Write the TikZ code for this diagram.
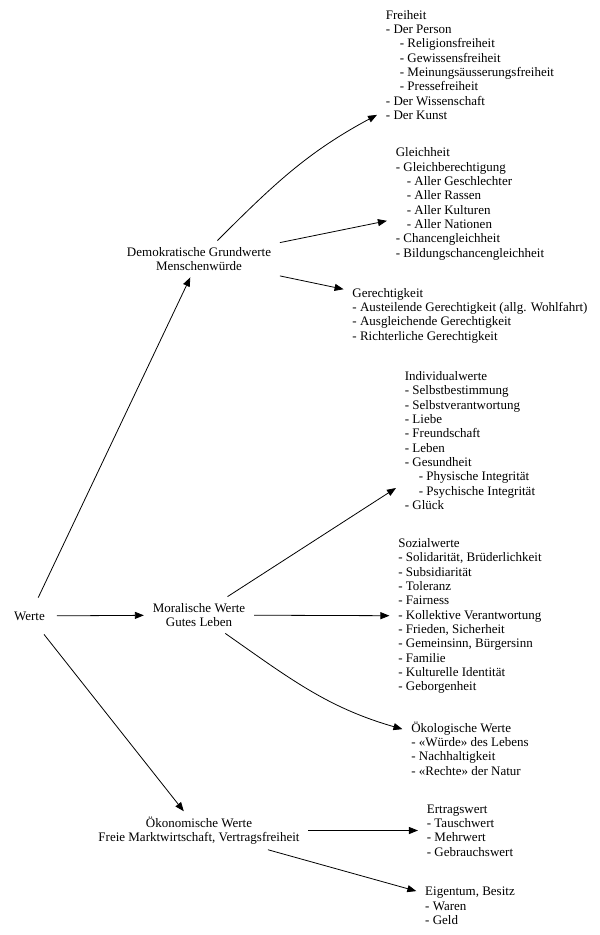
\documentclass[tikz,border=0pt]{standalone}
\usepackage{fontspec}
\setmainfont{Liberation Serif}
\usetikzlibrary{arrows.meta}
\tikzset{wertebaum/.style={x=1pt,y=1pt,font=\fontsize{13}{14.35}\selectfont,
    >={Triangle[length=9pt,width=7pt]},line width=0.8pt},
  wnode/.style={inner xsep=8.5pt,inner ysep=5pt,minimum height=36pt,minimum width=54pt,align=center},
  wlist/.style={wnode,align=left}}
\newcommand{\subin}{\hspace*{14pt}}

\begin{document}
\begin{tikzpicture}[wertebaum]
    \useasboundingbox (0,0) rectangle (600,-935);
    \def\ra{29.5}\def\rb{199}\def\rc{470} % x of the three ranks
    % rank 0 and 1
    \node[wnode] (werte) at (\ra,-616) {Werte};
    \node[wnode] (demo)  at (\rb,-259) {Demokratische Grundwerte\\Menschenwürde};
    \node[wnode] (moral) at (\rb,-615) {Moralische Werte\\Gutes Leben};
    \node[wnode] (oekon) at (\rb,-830.5) {Ökonomische Werte\\Freie Marktwirtschaft, Vertragsfreiheit};
    % rank 2
    \node[wlist] (freiheit) at (\rc,-65) {Freiheit\\- Der Person\\\subin- Religionsfreiheit\\\subin- Gewissensfreiheit\\
      \subin- Meinungsäusserungsfreiheit\\\subin- Pressefreiheit\\- Der Wissenschaft\\- Der Kunst};
    \node[wlist] (gleich) at (\rc,-204) {Gleichheit\\- Gleichberechtigung\\\hspace*{11pt}- Aller Geschlechter\\
      \hspace*{11pt}- Aller Rassen\\\hspace*{11pt}- Aller Kulturen\\\hspace*{11pt}- Aller Nationen\\
      - Chancengleichheit\\- Bildungschancengleichheit};
    \node[wlist] (gerecht) at (\rc,-315.5) {Gerechtigkeit\\- Austeilende Gerechtigkeit (allg. Wohlfahrt)\\
      - Ausgleichende Gerechtigkeit\\- Richterliche Gerechtigkeit};
    \node[wlist] (indiv) at (\rc,-440.5) {Individualwerte\\- Selbstbestimmung\\- Selbstverantwortung\\- Liebe\\
      - Freundschaft\\- Leben\\- Gesundheit\\\subin- Physische Integrität\\\subin- Psychische Integrität\\- Glück};
    \node[wlist] (sozial) at (\rc,-616) {Sozialwerte\\- Solidarität, Brüderlichkeit\\- Subsidiarität\\- Toleranz\\
      - Fairness\\- Kollektive Verantwortung\\- Frieden, Sicherheit\\- Gemeinsinn, Bürgersinn\\- Familie\\
      - Kulturelle Identität\\- Geborgenheit};
    \node[wlist] (oekolog) at (\rc,-748.5) {Ökologische Werte\\- «Würde» des Lebens\\- Nachhaltigkeit\\- «Rechte» der Natur};
    \node[wlist] (ertrag) at (\rc,-830.5) {Ertragswert\\- Tauschwert\\- Mehrwert\\- Gebrauchswert};
    \node[wlist] (eigentum) at (\rc,-906) {Eigentum, Besitz\\- Waren\\- Geld};
    % edges
    \draw[->] (werte) -- (demo);
    \draw[->] (werte) -- (moral);
    \draw[->] (werte) -- (oekon);
    \draw[->] (demo) to[out=45,in=208.5] (freiheit);
    \draw[->] (demo) -- (gleich);
    \draw[->] (demo) -- (gerecht);
    \draw[->] (moral) -- (indiv);
    \draw[->] (moral) -- (sozial);
    \draw[->] (moral) to[out=-35,in=164] (oekolog);
    \draw[->] (oekon) -- (ertrag);
    \draw[->] (oekon) -- (eigentum);
\end{tikzpicture}
\end{document}
